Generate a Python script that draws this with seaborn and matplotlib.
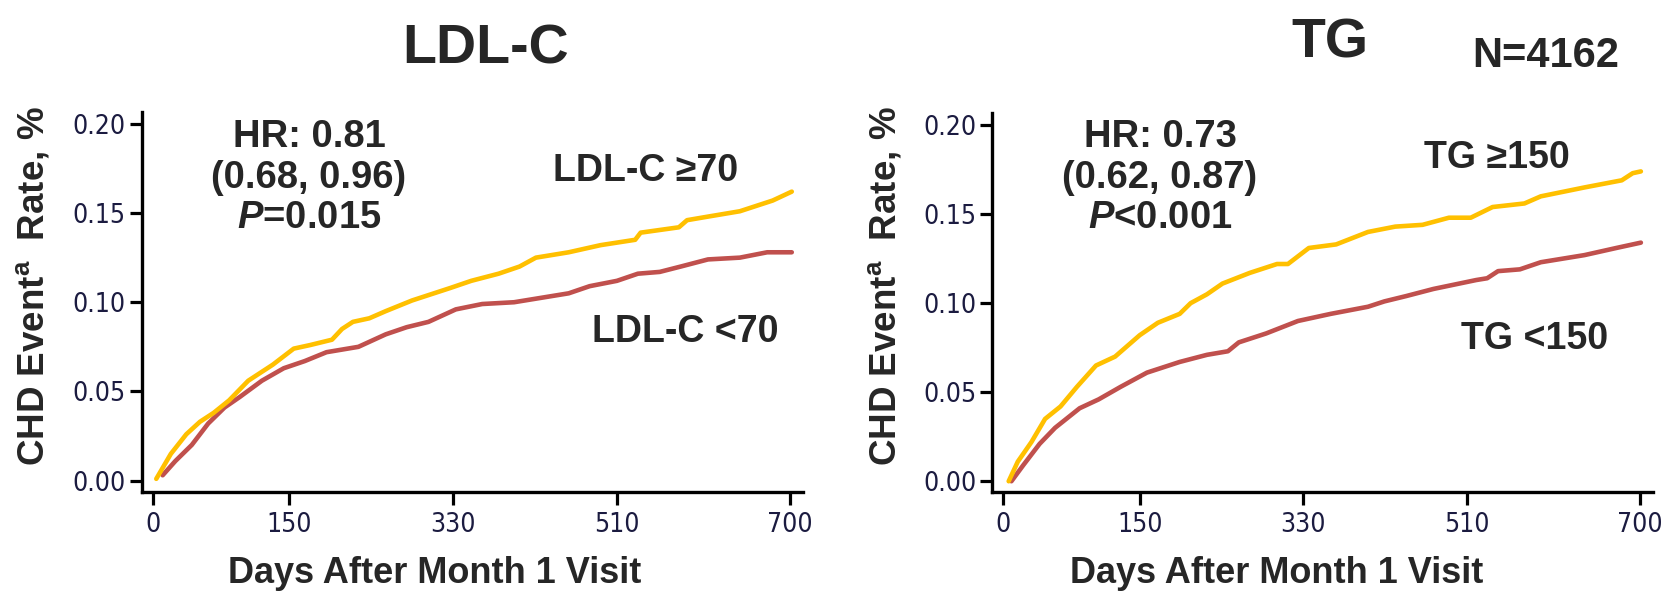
import matplotlib
matplotlib.use("Agg")
import matplotlib.pyplot as plt
import seaborn as sns
import pandas as pd
from matplotlib import font_manager
from matplotlib.font_manager import FontProperties

# ---------------- data ----------------
ldl_hi_days = [4, 20, 37, 52, 67, 84, 105, 132, 155, 173, 197, 208, 220, 238, 256, 285, 303, 327,
               350, 380, 403, 421, 457, 492, 530, 536, 578, 587, 610, 645, 681, 702]
ldl_hi_rate = [0.001, 0.015, 0.026, 0.033, 0.038, 0.045, 0.056, 0.065, 0.074, 0.076, 0.079, 0.085,
               0.089, 0.091, 0.095, 0.101, 0.104, 0.108, 0.112, 0.116, 0.120, 0.125, 0.128, 0.132,
               0.135, 0.139, 0.142, 0.146, 0.148, 0.151, 0.157, 0.162]
ldl_lo_days = [11, 25, 43, 61, 79, 96, 120, 144, 167, 191, 226, 256, 279, 303, 333, 362, 397, 421,
               457, 480, 510, 533, 557, 580, 610, 645, 675, 702]
ldl_lo_rate = [0.003, 0.011, 0.020, 0.032, 0.041, 0.047, 0.056, 0.063, 0.067, 0.072, 0.075, 0.082,
               0.086, 0.089, 0.096, 0.099, 0.100, 0.102, 0.105, 0.109, 0.112, 0.116, 0.117, 0.120,
               0.124, 0.125, 0.128, 0.128]
tg_hi_days = [6, 16, 31, 46, 63, 81, 102, 123, 150, 170, 194, 206, 224, 241, 271, 301, 313, 336,
              366, 401, 431, 461, 490, 514, 538, 573, 591, 639, 680, 692, 701]
tg_hi_rate = [0.000, 0.011, 0.022, 0.035, 0.042, 0.053, 0.065, 0.070, 0.082, 0.089, 0.094, 0.100,
              0.105, 0.111, 0.117, 0.122, 0.122, 0.131, 0.133, 0.140, 0.143, 0.144, 0.148, 0.148,
              0.154, 0.156, 0.160, 0.165, 0.169, 0.173, 0.174]
tg_lo_days = [9, 22, 40, 57, 84, 105, 129, 158, 194, 224, 247, 259, 289, 324, 360, 401, 419, 443,
              473, 520, 532, 544, 568, 591, 639, 674, 701]
tg_lo_rate = [0.000, 0.009, 0.021, 0.030, 0.041, 0.046, 0.053, 0.061, 0.067, 0.071, 0.073, 0.078,
              0.083, 0.090, 0.094, 0.098, 0.101, 0.104, 0.108, 0.113, 0.114, 0.118, 0.119, 0.123,
              0.127, 0.131, 0.134]

x_ticks = [0, 150, 330, 510, 700]
y_ticks = [0.00, 0.05, 0.10, 0.15, 0.20]
panel_titles = ["LDL-C", "TG"]
hi_labels = ["LDL-C \u226570", "TG \u2265150"]
lo_labels = ["LDL-C <70", "TG <150"]
hr_lines = [["HR: 0.81", "(0.68, 0.96)", r"$\mathit{P}$=0.015"],
            ["HR: 0.73", "(0.62, 0.87)", r"$\mathit{P}$<0.001"]]
n_label = "N=4162"
x_label = "Days After Month 1 Visit"
y_label = r"CHD Event$^{\mathbf{a}}$  Rate, %"

# ---------------- style ----------------
sns.set_theme(style="white")
plt.rcParams["font.family"] = ["Liberation Sans", "DejaVu Sans"]
plt.rcParams["mathtext.fontset"] = "custom"
plt.rcParams["mathtext.rm"] = "Liberation Sans:bold"
plt.rcParams["mathtext.bf"] = "Liberation Sans:bold"
plt.rcParams["mathtext.it"] = "Liberation Sans:bold:italic"

# a condensed face for the tick labels, if one is installed
tick_fp = None
cands = []
for f in font_manager.fontManager.ttflist:
    if f.style != "normal" or f.weight not in (400, "normal", "regular"):
        continue
    nm = f.name
    fn = f.fname.lower()
    if nm == "Liberation Sans Narrow":
        cands.append((0, f.fname))
    elif "condensed" in fn and ("dejavusans" in fn.replace("-", "").replace("_", "")) and "bold" not in fn and "oblique" not in fn and "mono" not in fn:
        cands.append((1, f.fname))
if cands:
    cands.sort()
    tick_fp = FontProperties(fname=cands[0][1], size=20.5 if cands[0][0] == 0 else 19)
else:
    tick_fp = FontProperties(family="Liberation Sans", size=19)

YELLOW = "#FFC000"
RED = "#C0504D"
TICKCOL = "#1b1b40"

W, H = 1673, 592
fig = plt.figure(figsize=(W / 100, H / 100), dpi=100)


def px(x, y):
    return x / W, 1 - y / H


# axes rectangles in pixel coords (left, right, top, bottom)
rects = [(141.7, 802.7, 111.7, 491.7), (992.3, 1652.7, 113.0, 492.3)]
series = [((ldl_hi_days, ldl_hi_rate), (ldl_lo_days, ldl_lo_rate)),
          ((tg_hi_days, tg_hi_rate), (tg_lo_days, tg_lo_rate))]

axes = []
for (l, r, t, b), ((hx, hy), (lx, ly)) in zip(rects, series):
    ax = fig.add_axes([l / W, 1 - b / H, (r - l) / W, (b - t) / H])
    dfh = pd.DataFrame({"day": hx, "rate": hy})
    dfl = pd.DataFrame({"day": lx, "rate": ly})
    sns.lineplot(data=dfl, x="day", y="rate", color=RED, lw=3.3, ax=ax, estimator=None)
    sns.lineplot(data=dfh, x="day", y="rate", color=YELLOW, lw=3.3, ax=ax, estimator=None)
    ax.set_xlim(-12, 714)
    ax.set_ylim(-0.0062, 0.2068)
    ax.set_xticks(x_ticks)
    ax.set_xticklabels([str(v) for v in x_ticks])
    ax.set_yticks(y_ticks)
    ax.set_yticklabels([f"{v:.2f}" for v in y_ticks])
    for s in ["top", "right"]:
        ax.spines[s].set_visible(False)
    for s in ["left", "bottom"]:
        ax.spines[s].set_linewidth(2.4)
        ax.spines[s].set_color("black")
    ax.tick_params(axis="x", length=9.5, width=2.3, pad=5, labelcolor=TICKCOL,
                   color="black", direction="out", bottom=True)
    ax.tick_params(axis="y", length=8.4, width=2.3, pad=3, labelcolor=TICKCOL,
                   color="black", direction="out", left=True)
    for lab in ax.get_xticklabels() + ax.get_yticklabels():
        lab.set_fontproperties(tick_fp)
    ax.set_xlabel("")
    ax.set_ylabel("")
    ax.set_facecolor("white")
    axes.append(ax)

fig.patch.set_facecolor("white")

# titles
fig.text(*px(486, 64), panel_titles[0], ha="center", va="baseline", fontsize=40, fontweight="bold")
fig.text(*px(1330, 57), panel_titles[1], ha="center", va="baseline", fontsize=40, fontweight="bold")
fig.text(*px(1472, 67), n_label, ha="left", va="baseline", fontsize=30, fontweight="bold")

# HR blocks
for cx, lines in zip([309, 1160], hr_lines):
    for yb, txt in zip([147, 188, 228], lines):
        fig.text(*px(cx, yb), txt, ha="center", va="baseline", fontsize=27.5, fontweight="bold")

# series labels
fig.text(*px(553, 181), hi_labels[0], ha="left", va="baseline", fontsize=27, fontweight="bold")
fig.text(*px(592, 342), lo_labels[0], ha="left", va="baseline", fontsize=27, fontweight="bold")
fig.text(*px(1424, 168), hi_labels[1], ha="left", va="baseline", fontsize=27, fontweight="bold")
fig.text(*px(1461, 349), lo_labels[1], ha="left", va="baseline", fontsize=27, fontweight="bold")

# axis labels
for cx in [435, 1277]:
    fig.text(*px(cx, 583), x_label, ha="center", va="baseline", fontsize=26, fontweight="bold")
for cx in [33, 885]:
    fig.text(*px(cx, 286), y_label, ha="center", va="center", rotation=90, fontsize=26.5,
             fontweight="bold")

fig.savefig("out.png", dpi=100, facecolor="white")
